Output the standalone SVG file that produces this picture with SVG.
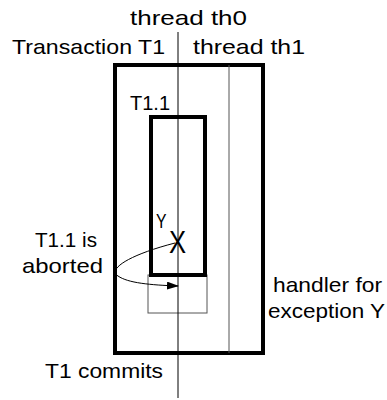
<svg xmlns="http://www.w3.org/2000/svg" width="387" height="400" viewBox="0 0 387 400">
<style>
text{font-family:"Liberation Sans",Arial,sans-serif;font-size:21px;fill:#000}
.thick{fill:none;stroke:#000;stroke-width:4}
.thin{fill:none;stroke:#000;stroke-width:1}
.grey{fill:none;stroke:#555;stroke-width:1}
</style>
<defs>
<marker id="ah" markerWidth="12" markerHeight="8" refX="11" refY="4" orient="auto" markerUnits="userSpaceOnUse">
<path d="M0,0 L12,4 L0,8 Z" fill="#000"/>
</marker>
</defs>
<rect width="387" height="400" fill="#fff"/>
<g id="T1">
<rect class="thick" x="115" y="65" width="148" height="288"/>
<text x="12" y="54" textLength="153" lengthAdjust="spacingAndGlyphs">Transaction T1</text>
</g>
<g id="th1">
<line class="grey" x1="229" y1="65" x2="229" y2="353"/>
<text x="193" y="54" textLength="112" lengthAdjust="spacingAndGlyphs">thread th1</text>
</g>
<g id="handler">
<rect class="grey" x="148" y="275" width="59" height="38"/>
<text x="273" y="292" textLength="109" lengthAdjust="spacingAndGlyphs">handler for</text>
<text x="268" y="318" textLength="117" lengthAdjust="spacingAndGlyphs">exception Y</text>
</g>
<g id="T1_1">
<rect class="thick" x="151" y="117" width="54" height="158"/>
<text x="130" y="110" textLength="40" lengthAdjust="spacingAndGlyphs">T1.1</text>
</g>
<g id="th0">
<line class="thin" x1="178" y1="32" x2="178" y2="398"/>
<text x="130" y="25" textLength="117" lengthAdjust="spacingAndGlyphs">thread th0</text>
</g>
<g id="exception">
<text transform="translate(156,228) scale(0.75,1)" x="0" y="0" style="font-size:21px">Y</text>
<text transform="translate(169,253) scale(0.8,1)" x="0" y="0" style="font-size:32px">X</text>
</g>
<g id="labels">
<text x="35" y="247" textLength="62" lengthAdjust="spacingAndGlyphs">T1.1 is</text>
<text x="22" y="273" textLength="81" lengthAdjust="spacingAndGlyphs">aborted</text>
<text x="45" y="378" textLength="118" lengthAdjust="spacingAndGlyphs">T1 commits</text>
</g>
<g id="connectors">
<path class="thin" d="M175,243 C125,256 108,270 118,276 C128,283 150,285 178,286" marker-end="url(#ah)"/>
</g>
</svg>
